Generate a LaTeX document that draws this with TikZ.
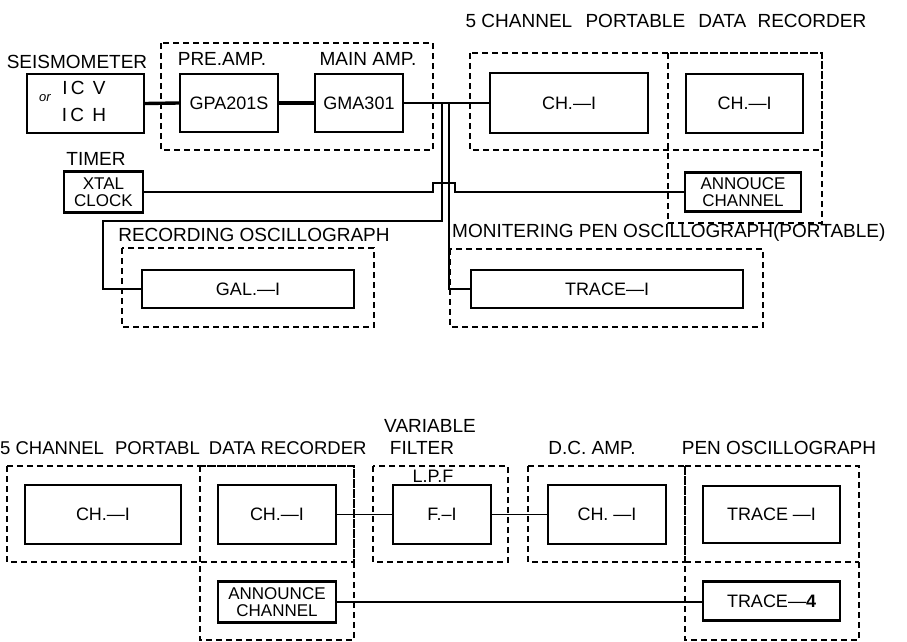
\documentclass[tikz,border=0pt]{standalone}
\usepackage{fontspec}
\setmainfont{Liberation Sans}
\begin{document}
\begin{tikzpicture}[x=1pt,y=-1pt,
  blk/.style={draw,line width=2.4pt,inner sep=0pt,align=center,font=\fontsize{18}{20}\selectfont},
  lab/.style={inner sep=0pt,font=\fontsize{19}{21}\selectfont},
  grp/.style={draw,line width=1.4pt,dash pattern=on 6pt off 4pt},
  wire/.style={line width=2.2pt},
  thin/.style={line width=1.8pt}]
\useasboundingbox (0,0) rectangle (907,642);

% ---------- top section: dashed groups ----------
\draw[grp] (161,43) rectangle (433,150);
\draw[grp] (470,53) rectangle (822,150);
\draw[grp] (668,53) rectangle (822,223);
\draw[grp] (122,248) rectangle (374,327);
\draw[grp] (450,249) rectangle (763,327);

% ---------- top section: blocks ----------
\node[blk,minimum width=117pt,minimum height=59pt] (seis) at (85.5,103.5) {};
\node[inner sep=0pt,font=\fontsize{13}{13}\selectfont\itshape] (orr) at (45,98) {or};
\node[inner sep=0pt,font=\fontsize{19}{20}\selectfont] (icv) at (84,88) {I\,C\, V};
\node[inner sep=0pt,font=\fontsize{19}{20}\selectfont] (ich) at (84,115) {I\,C\, H};
\node[blk,minimum width=98pt,minimum height=58pt] (gpa) at (229,103) {GPA201S};
\node[blk,minimum width=88pt,minimum height=58pt] (gma) at (359,103) {GMA301};
\node[blk,minimum width=158pt,minimum height=60pt] (ch1a) at (569,103) {CH.—I};
\node[blk,minimum width=117pt,minimum height=59pt] (ch1b) at (744.5,103.5) {CH.—I};
\node[blk,minimum width=79pt,minimum height=41pt,font=\fontsize{17}{17.5}\selectfont] (xtal) at (103.5,192) {XTAL\\CLOCK};
\node[blk,minimum width=116pt,minimum height=39pt,font=\fontsize{17}{17.5}\selectfont] (ann1) at (743,192) {ANNOUCE\\CHANNEL};
\node[blk,minimum width=212pt,minimum height=38pt] (gal) at (248,289) {GAL.—I};
\node[blk,minimum width=272pt,minimum height=38pt] (tr1) at (607,289) {TRACE—I};

% ---------- top section: labels ----------
\node[lab] (lrec) at (666,21) {5 CHANNEL\hspace{8pt} PORTABLE\hspace{8pt} DATA\hspace{6pt} RECORDER};
\node[lab] (lseis) at (77,62) {SEISMOMETER};
\node[lab] (lpre) at (222,59) {PRE.AMP.};
\node[lab] (lmain) at (368,59) {MAIN AMP.};
\node[lab] (ltimer) at (96,159) {TIMER};
\node[lab] (lrosc) at (254,235) {RECORDING OSCILLOGRAPH};
\node[lab,anchor=west] (lmon) at (452,233) {MONITERING PEN OSCILLOGRAPH(PORTABLE)};

% ---------- top section: wires ----------
\draw[line width=3.4pt] (seis.east) -- (gpa.west);
\draw[line width=3.4pt] (gpa.east) -- (gma.west);
\draw[line width=2.8pt] (gma.east) -- (ch1a.west);
\coordinate (j1) at (442,103);
\coordinate (j2) at (449,103);
\draw[thin] (j1) -- (442,221) -- (103,221) |- (gal.west);
\draw[thin] (j2) |- (tr1.west);
\draw[wire] (xtal.east) -- (433,192) -- (433,183) -- (455,183) -- (455,192) -- (ann1.west);

% ---------- bottom section: dashed groups ----------
\draw[grp] (7,466) rectangle (354,562);
\draw[grp] (200,466) rectangle (354,640);
\draw[grp] (373,466) rectangle (508,562);
\draw[grp] (528,466) rectangle (685,562);
\draw[grp] (685,466) rectangle (859,640);
\draw[grp] (685,562) -- (859,562);

% ---------- bottom section: blocks ----------
\node[blk,minimum width=156pt,minimum height=59pt] (ch1c) at (103,514.5) {CH.—I};
\node[blk,minimum width=118pt,minimum height=59pt] (ch1d) at (277,514.5) {CH.—I};
\node[blk,minimum width=118pt,minimum height=41pt,font=\fontsize{17}{17.5}\selectfont] (ann2) at (277,602) {ANNOUNCE\\CHANNEL};
\node[blk,minimum width=98pt,minimum height=59pt] (f1) at (442,514.5) {F.–I};
\node[blk,minimum width=118pt,minimum height=59pt] (dc) at (607,514.5) {CH. —I};
\node[blk,minimum width=137pt,minimum height=57pt] (tr1b) at (771.5,514.5) {TRACE —I};
\node[blk,minimum width=137pt,minimum height=39pt] (tr4) at (771.5,601) {TRACE—\textbf{4}};

% ---------- bottom section: labels ----------
\node[lab,anchor=west,font=\fontsize{18.5}{21}\selectfont] (lrec2) at (0,448) {5 CHANNEL\hspace{6pt} PORTABL\hspace{4pt} DATA RECORDER};
\node[lab] (lvar) at (430,426) {VARIABLE};
\node[lab] (lfil) at (422,448) {FILTER};
\node[lab,font=\fontsize{18}{18}\selectfont] (llpf) at (433,476) {L.P.F};
\node[lab] (ldc) at (592,448) {D.C. AMP.};
\node[lab] (lpen) at (779,448) {PEN OSCILLOGRAPH};

% ---------- bottom section: wires ----------
\draw[thin] (ch1d.east) -- (f1.west);
\draw[thin] (f1.east) -- (dc.west);
\draw[thin] (ann2.east) -- (ann2.east -| tr4.west);
\end{tikzpicture}
\end{document}
